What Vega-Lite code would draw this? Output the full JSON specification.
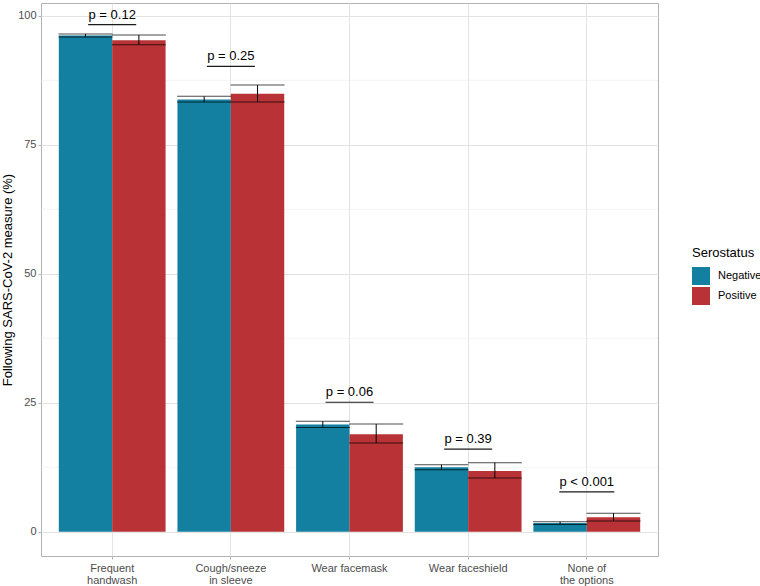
{
  "$schema": "https://vega.github.io/schema/vega-lite/v6.json",
  "autosize": "none",
  "width": 617,
  "height": 553,
  "padding": {"left": 41, "top": 3, "right": 102, "bottom": 30},
  "background": "white",
  "config": {
    "font": "Liberation Sans",
    "view": {"stroke": "#b3b3b3", "strokeWidth": 1},
    "axis": {"labelFont": "Liberation Sans", "titleFont": "Liberation Sans"},
    "legend": {"labelFont": "Liberation Sans", "titleFont": "Liberation Sans"}
  },
  "datasets": {
    "bars": [
      {"cat": "Frequent handwash", "group": "Negative", "value": 96.2, "lo": 95.9, "hi": 96.5},
      {"cat": "Frequent handwash", "group": "Positive", "value": 95.3, "lo": 94.4, "hi": 96.3},
      {"cat": "Cough/sneeze in sleeve", "group": "Negative", "value": 83.8, "lo": 83.3, "hi": 84.4},
      {"cat": "Cough/sneeze in sleeve", "group": "Positive", "value": 84.9, "lo": 83.3, "hi": 86.6},
      {"cat": "Wear facemask", "group": "Negative", "value": 20.8, "lo": 20.2, "hi": 21.4},
      {"cat": "Wear facemask", "group": "Positive", "value": 18.9, "lo": 17.2, "hi": 20.9},
      {"cat": "Wear faceshield", "group": "Negative", "value": 12.5, "lo": 12.0, "hi": 13.0},
      {"cat": "Wear faceshield", "group": "Positive", "value": 11.8, "lo": 10.4, "hi": 13.4},
      {"cat": "None of the options", "group": "Negative", "value": 1.7, "lo": 1.4, "hi": 1.95},
      {"cat": "None of the options", "group": "Positive", "value": 2.8, "lo": 2.1, "hi": 3.6}
    ],
    "pvals": [
      {"cat": "Frequent handwash", "label": "p = 0.12", "y": 98.3, "wide": "no"},
      {"cat": "Cough/sneeze in sleeve", "label": "p = 0.25", "y": 90.2, "wide": "no"},
      {"cat": "Wear facemask", "label": "p = 0.06", "y": 25.1, "wide": "no"},
      {"cat": "Wear faceshield", "label": "p = 0.39", "y": 16.0, "wide": "no"},
      {"cat": "None of the options", "label": "p < 0.001", "y": 7.75, "wide": "yes"}
    ],
    "minor": [{"y": 12.5}, {"y": 37.5}, {"y": 62.5}, {"y": 87.5}]
  },
  "layer": [
    {
      "data": {"name": "minor"},
      "mark": {"type": "rule", "color": "#ececec", "strokeWidth": 0.6},
      "encoding": {
        "y": {
          "field": "y", "type": "quantitative",
          "scale": {"domain": [-4.7, 102.5], "nice": false, "zero": false},
          "axis": {
            "title": "Following SARS-CoV-2 measure (%)", "values": [0, 25, 50, 75, 100],
            "grid": true, "gridColor": "#e3e3e3", "gridWidth": 1, "domain": false,
            "tickColor": "#b3b3b3", "tickSize": 3, "labelColor": "#4d4d4d", "labelFontSize": 11,
            "labelPadding": 2, "titleFontSize": 13, "titleFontWeight": "normal", "titleColor": "#000000",
            "titlePadding": 3
          }
        }
      }
    },
    {
      "data": {"name": "bars"},
      "mark": {"type": "bar", "strokeWidth": 0},
      "encoding": {
        "x": {
          "field": "cat", "type": "nominal",
          "sort": ["Frequent handwash", "Cough/sneeze in sleeve", "Wear facemask", "Wear faceshield", "None of the options"],
          "scale": {"paddingInner": 0.1, "paddingOuter": 0.15},
          "axis": {
            "title": null, "bandPosition": 0.5, "grid": true, "gridColor": "#e3e3e3", "gridWidth": 1,
            "domain": false, "tickColor": "#b3b3b3", "tickSize": 3, "labelAngle": 0,
            "labelColor": "#4d4d4d", "labelFontSize": 11, "labelPadding": 3, "labelLineHeight": 12,
            "labelBaseline": "top",
            "labelExpr": "datum.label == 'Frequent handwash' ? ['Frequent', 'handwash'] : datum.label == 'Cough/sneeze in sleeve' ? ['Cough/sneeze', 'in sleeve'] : datum.label == 'None of the options' ? ['None of', 'the options'] : datum.label"
          }
        },
        "xOffset": {"field": "group", "type": "nominal", "scale": {"paddingInner": 0, "paddingOuter": 0}},
        "y": {"field": "value", "type": "quantitative"},
        "color": {
          "field": "group", "type": "nominal",
          "scale": {"domain": ["Negative", "Positive"], "range": ["#1380A1", "#B83236"]},
          "legend": {
            "title": "Serostatus", "orient": "none", "legendX": 651, "legendY": 244,
            "titleFontSize": 13, "titleFontWeight": "normal", "titleColor": "#000000", "titlePadding": 7,
            "labelFontSize": 11, "labelColor": "#000000", "labelOffset": 8,
            "symbolType": "square", "symbolSize": 324, "symbolStrokeWidth": 0, "rowPadding": 2, "padding": 0
          }
        }
      }
    },
    {
      "data": {"name": "bars"},
      "mark": {"type": "rule", "color": "#000000", "strokeWidth": 1},
      "encoding": {
        "x": {"field": "cat", "type": "nominal", "sort": ["Frequent handwash", "Cough/sneeze in sleeve", "Wear facemask", "Wear faceshield", "None of the options"]},
        "xOffset": {"field": "group", "type": "nominal"},
        "y": {"field": "lo", "type": "quantitative"},
        "y2": {"field": "hi"}
      }
    },
    {
      "data": {"name": "bars"},
      "mark": {"type": "tick", "color": "#000000", "thickness": 1, "size": 54, "orient": "horizontal"},
      "encoding": {
        "x": {"field": "cat", "type": "nominal", "sort": ["Frequent handwash", "Cough/sneeze in sleeve", "Wear facemask", "Wear faceshield", "None of the options"]},
        "xOffset": {"field": "group", "type": "nominal"},
        "y": {"field": "lo", "type": "quantitative"}
      }
    },
    {
      "data": {"name": "bars"},
      "mark": {"type": "tick", "color": "#000000", "thickness": 1, "size": 54, "orient": "horizontal"},
      "encoding": {
        "x": {"field": "cat", "type": "nominal", "sort": ["Frequent handwash", "Cough/sneeze in sleeve", "Wear facemask", "Wear faceshield", "None of the options"]},
        "xOffset": {"field": "group", "type": "nominal"},
        "y": {"field": "hi", "type": "quantitative"}
      }
    },
    {
      "data": {"name": "pvals"},
      "transform": [{"filter": "datum.wide == 'no'"}],
      "mark": {"type": "rule", "color": "#1a1a1a", "strokeWidth": 1.2, "xOffset": -24, "x2Offset": 24},
      "encoding": {
        "x": {"field": "cat", "type": "nominal", "bandPosition": 0.5, "sort": ["Frequent handwash", "Cough/sneeze in sleeve", "Wear facemask", "Wear faceshield", "None of the options"]},
        "x2": {"field": "cat", "bandPosition": 0.5},
        "y": {"field": "y", "type": "quantitative"}
      }
    },
    {
      "data": {"name": "pvals"},
      "transform": [{"filter": "datum.wide == 'yes'"}],
      "mark": {"type": "rule", "color": "#1a1a1a", "strokeWidth": 1.2, "xOffset": -27.5, "x2Offset": 27.5},
      "encoding": {
        "x": {"field": "cat", "type": "nominal", "bandPosition": 0.5, "sort": ["Frequent handwash", "Cough/sneeze in sleeve", "Wear facemask", "Wear faceshield", "None of the options"]},
        "x2": {"field": "cat", "bandPosition": 0.5},
        "y": {"field": "y", "type": "quantitative"}
      }
    },
    {
      "data": {"name": "pvals"},
      "mark": {"type": "text", "fontSize": 13, "color": "#000000", "baseline": "alphabetic", "dy": -6, "align": "center"},
      "encoding": {
        "x": {"field": "cat", "type": "nominal", "bandPosition": 0.5, "sort": ["Frequent handwash", "Cough/sneeze in sleeve", "Wear facemask", "Wear faceshield", "None of the options"]},
        "y": {"field": "y", "type": "quantitative"},
        "text": {"field": "label"}
      }
    }
  ]
}
